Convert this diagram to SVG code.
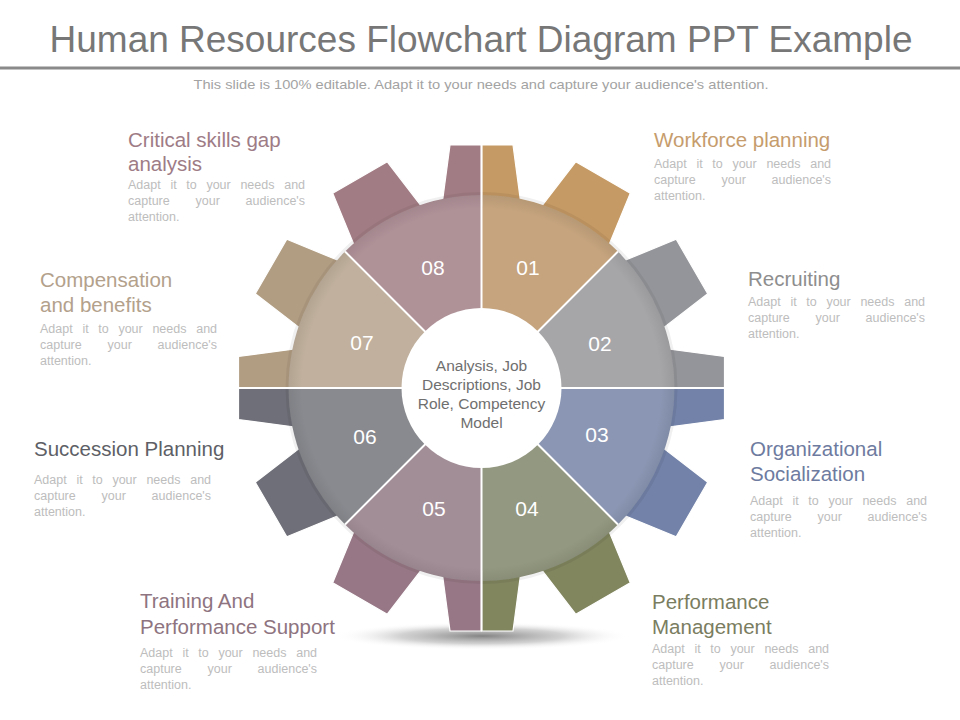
<svg xmlns="http://www.w3.org/2000/svg" xmlns:xlink="http://www.w3.org/1999/xlink" width="960" height="720" viewBox="0 0 960 720">
<style>
text{font-family:"Liberation Sans",Arial,sans-serif}
.ttl{font-size:20.5px}
.d{font-size:12.5px;fill:#bdbdbd}
.num{font-size:21px;fill:#ffffff;text-anchor:middle}
.ctr{font-size:15.5px;fill:#6f6f6f;text-anchor:middle}
.th{stroke:#ffffff;stroke-width:1.2}
.div{stroke:#ffffff;stroke-width:2;fill:none}
</style>
<defs>
<path id="tooth" d="M-31.5,-243 L31.5,-243 L39.5,-183 L-39.5,-183 Z"/>
<path id="toothL" d="M-31.5,-243 L0,-243 L0,-183 L-39.5,-183 Z"/>
<path id="toothR" d="M0,-243 L31.5,-243 L39.5,-183 L0,-183 Z"/>
<radialGradient id="floor" cx="0.5" cy="0.5" r="0.5">
<stop offset="0" stop-color="#6e6e6e" stop-opacity="0.85"/>
<stop offset="0.55" stop-color="#9a9a9a" stop-opacity="0.45"/>
<stop offset="1" stop-color="#ffffff" stop-opacity="0"/>
</radialGradient>
<radialGradient id="rim" gradientUnits="userSpaceOnUse" cx="481.5" cy="388" r="193">
<stop offset="0.93" stop-color="#000" stop-opacity="0"/>
<stop offset="1" stop-color="#000" stop-opacity="0.07"/>
</radialGradient>
</defs>
<rect width="960" height="720" fill="#ffffff"/>

<text x="481" y="52" font-size="37" fill="#777777" text-anchor="middle">Human Resources Flowchart Diagram PPT Example</text>
<rect x="0" y="66.5" width="960" height="3" fill="#8a8a8a"/>
<text x="481" y="89" font-size="13" fill="#a3a3a3" text-anchor="middle" textLength="575" lengthAdjust="spacingAndGlyphs">This slide is 100% editable. Adapt it to your needs and capture your audience's attention.</text>

<ellipse cx="482" cy="636" rx="148" ry="14" fill="url(#floor)"/>

<g id="seg01">
<use xlink:href="#tooth" class="th" fill="#c59a64" transform="translate(481.5,388) rotate(30)"/>
<use xlink:href="#toothR" class="th" fill="#c59a64" transform="translate(481.5,388)"/>
<path d="M481.5,388 L481.5,195 A193,193 0 0 1 617.97,251.53 Z" fill="#c5a47e"/>
<text class="num" x="528" y="274.5">01</text>
</g>
<g id="seg02">
<use xlink:href="#tooth" class="th" fill="#94959a" transform="translate(481.5,388) rotate(60)"/>
<use xlink:href="#toothL" class="th" fill="#94959a" transform="translate(481.5,388) rotate(90)"/>
<path d="M481.5,388 L617.97,251.53 A193,193 0 0 1 674.5,388 Z" fill="#a6a6a9"/>
<text class="num" x="600" y="350.5">02</text>
</g>
<g id="seg03">
<use xlink:href="#toothR" class="th" fill="#7282a8" transform="translate(481.5,388) rotate(90)"/>
<use xlink:href="#tooth" class="th" fill="#7282a8" transform="translate(481.5,388) rotate(120)"/>
<path d="M481.5,388 L674.5,388 A193,193 0 0 1 617.97,524.47 Z" fill="#8a96b3"/>
<text class="num" x="597" y="441.5">03</text>
</g>
<g id="seg04">
<use xlink:href="#tooth" class="th" fill="#81865f" transform="translate(481.5,388) rotate(150)"/>
<use xlink:href="#toothL" class="th" fill="#81865f" transform="translate(481.5,388) rotate(180)"/>
<path d="M481.5,388 L617.97,524.47 A193,193 0 0 1 481.5,581 Z" fill="#939880"/>
<text class="num" x="527" y="515.5">04</text>
</g>
<g id="seg05">
<use xlink:href="#toothR" class="th" fill="#977785" transform="translate(481.5,388) rotate(180)"/>
<use xlink:href="#tooth" class="th" fill="#977785" transform="translate(481.5,388) rotate(210)"/>
<path d="M481.5,388 L481.5,581 A193,193 0 0 1 345.03,524.47 Z" fill="#a28e97"/>
<text class="num" x="434" y="515.5">05</text>
</g>
<g id="seg06">
<use xlink:href="#tooth" class="th" fill="#6e6f78" transform="translate(481.5,388) rotate(240)"/>
<use xlink:href="#toothL" class="th" fill="#6e6f78" transform="translate(481.5,388) rotate(270)"/>
<path d="M481.5,388 L345.03,524.47 A193,193 0 0 1 288.5,388 Z" fill="#898a8f"/>
<text class="num" x="365" y="443.5">06</text>
</g>
<g id="seg07">
<use xlink:href="#toothR" class="th" fill="#b19d82" transform="translate(481.5,388) rotate(270)"/>
<use xlink:href="#tooth" class="th" fill="#b19d82" transform="translate(481.5,388) rotate(300)"/>
<path d="M481.5,388 L288.5,388 A193,193 0 0 1 345.03,251.53 Z" fill="#c0b09d"/>
<text class="num" x="362" y="349.5">07</text>
</g>
<g id="seg08">
<use xlink:href="#tooth" class="th" fill="#a27c84" transform="translate(481.5,388) rotate(330)"/>
<use xlink:href="#toothL" class="th" fill="#a27c84" transform="translate(481.5,388)"/>
<path d="M481.5,388 L345.03,251.53 A193,193 0 0 1 481.5,195 Z" fill="#af9198"/>
<text class="num" x="433" y="274.5">08</text>
</g>

<circle cx="481.5" cy="388" r="193" fill="url(#rim)"/>
<circle cx="481.5" cy="388" r="194.5" fill="none" stroke="#000" stroke-opacity="0.06" stroke-width="3"/>

<g id="connectors">
<path class="div" d="M481.5,145 L481.5,631 M231.5,388 L731.5,388 M345.03,251.53 L617.97,524.47 M617.97,251.53 L345.03,524.47"/>
</g>

<g id="center">
<circle cx="481.5" cy="388" r="80" fill="#ffffff"/>
<text class="ctr" x="481.5" y="371">Analysis, Job</text>
<text class="ctr" x="481.5" y="390">Descriptions, Job</text>
<text class="ctr" x="481.5" y="409">Role, Competency</text>
<text class="ctr" x="481.5" y="428">Model</text>
</g>

<g id="label01">
<text class="ttl" x="654" y="147" fill="#c69c6d">Workforce planning</text>
<text class="d" y="168"><tspan x="654">Adapt</tspan><tspan x="696.4">it</tspan><tspan x="712.3">to</tspan><tspan x="732.4">your</tspan><tspan x="766.4">needs</tspan><tspan x="810.2">and</tspan></text>
<text class="d" y="184"><tspan x="654">capture</tspan><tspan x="721.5">your</tspan><tspan x="771.6">audience's</tspan></text>
<text class="d" x="654" y="200">attention.</text>
</g>
<g id="label02">
<text class="ttl" x="748" y="286" fill="#8e8e8e">Recruiting</text>
<text class="d" y="306"><tspan x="748">Adapt</tspan><tspan x="790.4">it</tspan><tspan x="806.3">to</tspan><tspan x="826.4">your</tspan><tspan x="860.4">needs</tspan><tspan x="904.2">and</tspan></text>
<text class="d" y="322"><tspan x="748">capture</tspan><tspan x="815.5">your</tspan><tspan x="865.6">audience's</tspan></text>
<text class="d" x="748" y="338">attention.</text>
</g>
<g id="label03">
<text class="ttl" x="750" y="456" fill="#6e7ba0">Organizational</text>
<text class="ttl" x="750" y="481" fill="#6e7ba0">Socialization</text>
<text class="d" y="505"><tspan x="750">Adapt</tspan><tspan x="792.4">it</tspan><tspan x="808.3">to</tspan><tspan x="828.4">your</tspan><tspan x="862.4">needs</tspan><tspan x="906.2">and</tspan></text>
<text class="d" y="521"><tspan x="750">capture</tspan><tspan x="817.5">your</tspan><tspan x="867.6">audience's</tspan></text>
<text class="d" x="750" y="537">attention.</text>
</g>
<g id="label04">
<text class="ttl" x="652" y="609" fill="#7a7d60">Performance</text>
<text class="ttl" x="652" y="634" fill="#7a7d60">Management</text>
<text class="d" y="653"><tspan x="652">Adapt</tspan><tspan x="694.4">it</tspan><tspan x="710.3">to</tspan><tspan x="730.4">your</tspan><tspan x="764.4">needs</tspan><tspan x="808.2">and</tspan></text>
<text class="d" y="669"><tspan x="652">capture</tspan><tspan x="719.5">your</tspan><tspan x="769.6">audience's</tspan></text>
<text class="d" x="652" y="685">attention.</text>
</g>
<g id="label05">
<text class="ttl" x="140" y="608" fill="#8e7480">Training And</text>
<text class="ttl" x="140" y="634" fill="#8e7480">Performance Support</text>
<text class="d" y="657"><tspan x="140">Adapt</tspan><tspan x="182.4">it</tspan><tspan x="198.3">to</tspan><tspan x="218.4">your</tspan><tspan x="252.4">needs</tspan><tspan x="296.2">and</tspan></text>
<text class="d" y="673"><tspan x="140">capture</tspan><tspan x="207.5">your</tspan><tspan x="257.6">audience's</tspan></text>
<text class="d" x="140" y="689">attention.</text>
</g>
<g id="label06">
<text class="ttl" x="34" y="456" fill="#5e5f66">Succession Planning</text>
<text class="d" y="484"><tspan x="34">Adapt</tspan><tspan x="76.4">it</tspan><tspan x="92.3">to</tspan><tspan x="112.4">your</tspan><tspan x="146.4">needs</tspan><tspan x="190.2">and</tspan></text>
<text class="d" y="500"><tspan x="34">capture</tspan><tspan x="101.5">your</tspan><tspan x="151.6">audience's</tspan></text>
<text class="d" x="34" y="516">attention.</text>
</g>
<g id="label07">
<text class="ttl" x="40" y="287" fill="#b3a18c">Compensation</text>
<text class="ttl" x="40" y="312" fill="#b3a18c">and benefits</text>
<text class="d" y="333"><tspan x="40">Adapt</tspan><tspan x="82.4">it</tspan><tspan x="98.3">to</tspan><tspan x="118.4">your</tspan><tspan x="152.4">needs</tspan><tspan x="196.2">and</tspan></text>
<text class="d" y="349"><tspan x="40">capture</tspan><tspan x="107.5">your</tspan><tspan x="157.6">audience's</tspan></text>
<text class="d" x="40" y="365">attention.</text>
</g>
<g id="label08">
<text class="ttl" x="128" y="147" fill="#9e7c86">Critical skills gap</text>
<text class="ttl" x="128" y="171" fill="#9e7c86">analysis</text>
<text class="d" y="189"><tspan x="128">Adapt</tspan><tspan x="170.4">it</tspan><tspan x="186.3">to</tspan><tspan x="206.4">your</tspan><tspan x="240.4">needs</tspan><tspan x="284.2">and</tspan></text>
<text class="d" y="205"><tspan x="128">capture</tspan><tspan x="195.5">your</tspan><tspan x="245.6">audience's</tspan></text>
<text class="d" x="128" y="221">attention.</text>
</g>
</svg>
